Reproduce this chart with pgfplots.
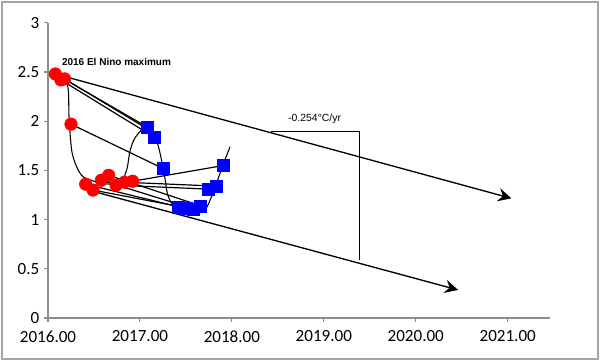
\documentclass[border=0pt]{standalone}
\usepackage{fontspec}
\setmainfont{Carlito}
\newfontfamily\arial{Liberation Sans}
\usepackage{pgfplots}
\pgfplotsset{compat=1.18}
\usetikzlibrary{arrows.meta}
\definecolor{axgray}{RGB}{140,140,140}
\definecolor{framegray}{RGB}{165,165,165}
\begin{document}
\begin{tikzpicture}
\useasboundingbox (0pt,0pt) rectangle (450pt,270.75pt);
\draw[framegray, line width=1.5pt] (1.5pt,1.5pt) rectangle (448.5pt,269.25pt);
\begin{axis}[
  at={(36pt,32.25pt)}, anchor=south west,
  scale only axis, width=376.5pt, height=221.4pt,
  xmin=2016, xmax=2021.46, ymin=0, ymax=3,
  axis lines*=left,
  axis line style={axgray, line width=0.8pt},
  tick style={axgray, line width=0.8pt},
  tick align=outside, major tick length=3pt,
  xtick={2016,2017,2018,2019,2020,2021},
  ytick={0,0.5,1,1.5,2,2.5,3},
  xticklabel style={/pgf/number format/fixed, /pgf/number format/fixed zerofill, /pgf/number format/precision=2, /pgf/number format/1000 sep={}},
  /pgf/number format/assume math mode=true,
  tick label style={font=\fontsize{12.8}{15}\selectfont, black},
  x tick label style={yshift=-3pt},
  clip=false,
]
% red circles (2016)
\addplot[only marks, mark=*, mark size=4.7pt, mark options={draw=red, fill=red}] coordinates {
(2016.08,2.48) (2016.14,2.42) (2016.18,2.43) (2016.25,1.97)
(2016.41,1.36) (2016.49,1.30) (2016.58,1.40) (2016.66,1.45)
(2016.74,1.35) (2016.83,1.38) (2016.92,1.39)};
% blue squares (2017)
\addplot[only marks, mark=square*, mark size=4.5pt, mark options={draw=blue, fill=blue}] coordinates {
(2017.08,1.94) (2017.16,1.835) (2017.25,1.52) (2017.42,1.13)
(2017.50,1.12) (2017.58,1.11) (2017.66,1.14) (2017.74,1.31)
(2017.83,1.34) (2017.91,1.55)};
% connecting lines red -> blue
\addplot[black, line width=0.9pt] coordinates {(2016.08,2.48) (2017.08,1.94)};
\addplot[black, line width=0.9pt] coordinates {(2016.14,2.42) (2017.16,1.835)};
\addplot[black, line width=0.9pt] coordinates {(2016.18,2.43) (2017.12,1.90)};
\addplot[black, line width=0.9pt] coordinates {(2016.25,1.97) (2017.25,1.52)};
\addplot[black, line width=0.9pt] coordinates {(2016.41,1.36) (2017.42,1.13)};
\addplot[black, line width=0.9pt] coordinates {(2016.49,1.30) (2017.50,1.12)};
\addplot[black, line width=0.9pt] coordinates {(2016.58,1.40) (2017.58,1.11)};
\addplot[black, line width=0.9pt] coordinates {(2016.66,1.45) (2017.66,1.14)};
\addplot[black, line width=0.9pt] coordinates {(2016.74,1.35) (2017.74,1.31)};
\addplot[black, line width=0.9pt] coordinates {(2016.83,1.38) (2017.83,1.34)};
\addplot[black, line width=0.9pt] coordinates {(2016.92,1.39) (2017.91,1.55)};
% smoothed monthly curve
\addplot[black, line width=0.8pt, smooth, tension=0.5] coordinates {
(2016.08,2.48) (2016.175,2.47) (2016.22,2.32) (2016.23,2.02) (2016.26,1.69)
(2016.32,1.52) (2016.39,1.43) (2016.54,1.38) (2016.69,1.36) (2016.80,1.39)
(2016.86,1.52) (2016.89,1.69) (2016.94,1.82) (2017.03,1.92) (2017.11,1.92)
(2017.16,1.87) (2017.22,1.67) (2017.27,1.43) (2017.30,1.26) (2017.35,1.16)
(2017.44,1.09) (2017.58,1.06) (2017.68,1.08) (2017.73,1.13) (2017.79,1.26)
(2017.84,1.39) (2017.91,1.57) (2017.98,1.74)};
% trend arrows
\addplot[black, line width=1pt, -{Stealth[length=10pt,width=10pt,inset=3.5pt]}] coordinates {(2016.08,2.48) (2021.04,1.216)};
\addplot[black, line width=1pt, -{Stealth[length=10pt,width=10pt,inset=3.5pt]}] coordinates {(2016.48,1.29) (2020.46,0.285)};
% slope triangle
\addplot[black, line width=0.8pt] coordinates {(2018.42,1.893) (2019.39,1.893) (2019.39,0.59)};
\node[font=\arial\bfseries\fontsize{7.5}{9}\selectfont, anchor=west, inner sep=0pt] at (axis cs:2016.15,2.60) {2016 El Nino maximum};
\node[font=\arial\fontsize{7.8}{9}\selectfont, inner sep=0pt] at (axis cs:2018.90,2.02) {-0.254°C/yr};
\end{axis}
\end{tikzpicture}
\end{document}
